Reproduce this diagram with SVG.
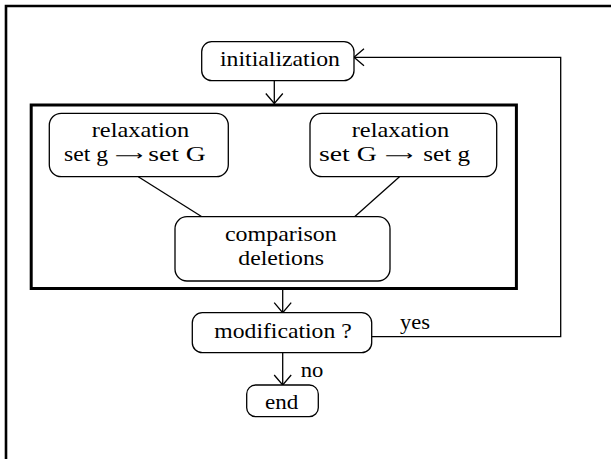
<svg xmlns="http://www.w3.org/2000/svg" width="611" height="459" viewBox="0 0 611 459">
<style>
.box{fill:#fff;stroke:#000;stroke-width:1.3}
.t{font-family:"Liberation Serif","Times New Roman",Times,serif;font-size:22px;fill:#000}
.arr{font-family:"DejaVu Sans",sans-serif;font-size:13px;fill:#000}
.c{fill:none;stroke:#000;stroke-width:1.3}
</style>
<defs>
<marker id="ah" markerUnits="userSpaceOnUse" markerWidth="14" markerHeight="22" viewBox="-12 -11 14 22" refX="0" refY="0" orient="auto" overflow="visible">
<path d="M-10,-8.5 L0,0 L-10,8.5" fill="none" stroke="#000" stroke-width="1.3"/>
</marker>
</defs>
<rect width="611" height="459" fill="#fff"/>
<g id="frame-outer">
<path d="M6,459 V6 H611" fill="none" stroke="#000" stroke-width="2.6"/>
</g>
<g id="frame-inner">
<rect x="31.2" y="105" width="485.2" height="183.5" fill="none" stroke="#000" stroke-width="3"/>
</g>
<g id="connectors">
<line class="c" x1="274.3" y1="80.7" x2="274.3" y2="103.5" marker-end="url(#ah)"/>
<line class="c" x1="282.7" y1="290" x2="282.7" y2="312.7" marker-end="url(#ah)"/>
<line class="c" x1="282.7" y1="352.7" x2="282.7" y2="385" marker-end="url(#ah)"/>
<polyline class="c" points="371.7,336.7 560.7,336.7 560.7,57.3 354,57.3" marker-end="url(#ah)"/>
<line class="c" x1="138.3" y1="176.7" x2="201.9" y2="216.7"/>
<line class="c" x1="399.5" y1="176.7" x2="354.6" y2="216.7"/>
<text class="t" x="400" y="329.3" textLength="30" lengthAdjust="spacingAndGlyphs">yes</text>
<text class="t" x="300.7" y="377.3" textLength="22.6" lengthAdjust="spacingAndGlyphs">no</text>
</g>
<g id="initialization">
<rect class="box" x="201.7" y="41.7" width="152.3" height="39" rx="10"/>
<text class="t" x="220" y="65.5" textLength="120" lengthAdjust="spacingAndGlyphs">initialization</text>
</g>
<g id="relax-left">
<rect class="box" x="49.3" y="113.3" width="179" height="63.4" rx="12"/>
<text class="t" x="91.7" y="137" textLength="97.6" lengthAdjust="spacingAndGlyphs">relaxation</text>
<text class="t" x="64" y="161" textLength="44" lengthAdjust="spacingAndGlyphs">set g</text>
<text class="arr" x="115" y="159.5" textLength="28" lengthAdjust="spacingAndGlyphs">⟶</text>
<text class="t" x="148.3" y="161" textLength="57.4" lengthAdjust="spacingAndGlyphs">set G</text>
</g>
<g id="relax-right">
<rect class="box" x="310" y="113.3" width="186.7" height="63.4" rx="12"/>
<text class="t" x="351.7" y="137" textLength="97.6" lengthAdjust="spacingAndGlyphs">relaxation</text>
<text class="t" x="319" y="161" textLength="57.7" lengthAdjust="spacingAndGlyphs">set G</text>
<text class="arr" x="385" y="159.5" textLength="28" lengthAdjust="spacingAndGlyphs">⟶</text>
<text class="t" x="423.3" y="161" textLength="46.7" lengthAdjust="spacingAndGlyphs">set g</text>
</g>
<g id="comparison">
<rect class="box" x="175" y="216.7" width="215" height="64.3" rx="12"/>
<text class="t" x="225" y="241.2" textLength="111.7" lengthAdjust="spacingAndGlyphs">comparison</text>
<text class="t" x="238.3" y="264.7" textLength="85.7" lengthAdjust="spacingAndGlyphs">deletions</text>
</g>
<g id="modification">
<rect class="box" x="192.3" y="312.7" width="179.4" height="40" rx="10"/>
<text class="t" x="214.3" y="338" textLength="137.4" lengthAdjust="spacingAndGlyphs">modification ?</text>
</g>
<g id="end">
<rect class="box" x="246.7" y="385" width="71.6" height="31.7" rx="9"/>
<text class="t" x="265" y="408.5" textLength="33.3" lengthAdjust="spacingAndGlyphs">end</text>
</g>
</svg>
